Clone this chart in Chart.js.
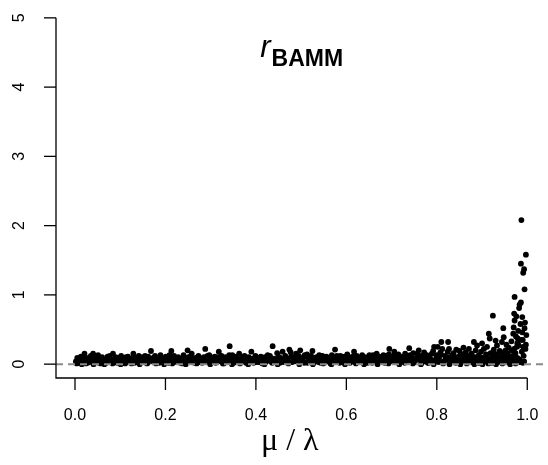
<!DOCTYPE html>
<html>
<head>
<meta charset="utf-8">
<script src="https://cdn.jsdelivr.net/npm/chart.js@4.4.1/dist/chart.umd.min.js"></script>
<style>
  html, body { margin: 0; padding: 0; background: #fff; }
  #grafica { display: block; }
</style>
</head>
<body>
<canvas id="grafica" width="548" height="465"></canvas>
<script>
// =============================================
// DATOS
// =============================================

// mu / lambda (eje x) y tasa BAMM (eje y)
const muRatio = [
  0.002, 0.005, 0.008, 0.011, 0.013, 0.016, 0.019, 0.021, 0.024, 0.027,
  0.030, 0.032, 0.035, 0.038, 0.040, 0.043, 0.046, 0.049, 0.051, 0.054,
  0.057, 0.060, 0.063, 0.066, 0.069, 0.072, 0.075, 0.078, 0.081, 0.084,
  0.087, 0.090, 0.093, 0.096, 0.099, 0.102, 0.105, 0.108, 0.111, 0.114,
  0.117, 0.120, 0.123, 0.126, 0.129, 0.132, 0.135, 0.138, 0.141, 0.144,
  0.147, 0.150, 0.153, 0.156, 0.159, 0.162, 0.165, 0.168, 0.171, 0.174,
  0.177, 0.180, 0.183, 0.186, 0.189, 0.192, 0.195, 0.198, 0.201, 0.204,
  0.207, 0.210, 0.213, 0.216, 0.219, 0.222, 0.225, 0.228, 0.231, 0.234,
  0.237, 0.240, 0.243, 0.246, 0.249, 0.252, 0.255, 0.258, 0.261, 0.264,
  0.267, 0.270, 0.273, 0.276, 0.279, 0.282, 0.285, 0.288, 0.291, 0.294,
  0.297, 0.300, 0.303, 0.306, 0.309, 0.312, 0.315, 0.318, 0.321, 0.324,
  0.327, 0.330, 0.333, 0.336, 0.339, 0.342, 0.345, 0.348, 0.351, 0.354,
  0.357, 0.360, 0.363, 0.366, 0.369, 0.372, 0.375, 0.378, 0.381, 0.384,
  0.387, 0.390, 0.393, 0.396, 0.399, 0.402, 0.405, 0.408, 0.411, 0.414,
  0.417, 0.420, 0.423, 0.426, 0.429, 0.432, 0.435, 0.437, 0.440, 0.443,
  0.447, 0.450, 0.453, 0.456, 0.459, 0.462, 0.465, 0.468, 0.471, 0.474,
  0.477, 0.480, 0.483, 0.486, 0.489, 0.492, 0.495, 0.498, 0.501, 0.504,
  0.507, 0.510, 0.513, 0.516, 0.519, 0.522, 0.525, 0.528, 0.531, 0.534,
  0.537, 0.540, 0.543, 0.547, 0.550, 0.553, 0.556, 0.559, 0.562, 0.565,
  0.568, 0.571, 0.575, 0.578, 0.581, 0.584, 0.587, 0.590, 0.593, 0.596,
  0.599, 0.602, 0.605, 0.608, 0.611, 0.614, 0.617, 0.620, 0.623, 0.626,
  0.629, 0.632, 0.635, 0.638, 0.641, 0.644, 0.647, 0.650, 0.653, 0.656,
  0.659, 0.662, 0.665, 0.667, 0.670, 0.673, 0.676, 0.679, 0.682, 0.685,
  0.688, 0.691, 0.694, 0.695, 0.698, 0.701, 0.704, 0.706, 0.709, 0.712,
  0.715, 0.718, 0.721, 0.724, 0.727, 0.730, 0.733, 0.736, 0.739, 0.742,
  0.745, 0.748, 0.751, 0.754, 0.757, 0.760, 0.763, 0.766, 0.769, 0.772,
  0.775, 0.778, 0.780, 0.783, 0.786, 0.789, 0.792, 0.794, 0.797, 0.800,
  0.802, 0.805, 0.808, 0.810, 0.812, 0.815, 0.818, 0.821, 0.824, 0.825,
  0.827, 0.830, 0.833, 0.834, 0.837, 0.840, 0.843, 0.846, 0.849, 0.850,
  0.853, 0.856, 0.859, 0.862, 0.864, 0.867, 0.870, 0.871, 0.874, 0.877,
  0.880, 0.882, 0.884, 0.886, 0.889, 0.891, 0.893, 0.896, 0.898, 0.900,
  0.902, 0.904, 0.906, 0.909, 0.911, 0.913, 0.915, 0.917, 0.919, 0.921,
  0.923, 0.924, 0.926, 0.928, 0.930, 0.932, 0.933, 0.935, 0.937, 0.939,
  0.940, 0.942, 0.944, 0.946, 0.947, 0.948, 0.950, 0.952, 0.954, 0.955,
  0.957, 0.959, 0.961, 0.963, 0.965, 0.966, 0.968, 0.969, 0.970, 0.971,
  0.972, 0.972, 0.973, 0.974, 0.975, 0.976, 0.977, 0.978, 0.979, 0.980,
  0.981, 0.982, 0.983, 0.984, 0.985, 0.986, 0.986, 0.987, 0.988, 0.989,
  0.989, 0.990, 0.991, 0.991, 0.992, 0.993, 0.994, 0.995, 0.996, 0.997,
  0.998, 0.993
];

const rateBamm = [
  0.04, 0.09, 0.02, 0.06, 0.11, 0.03, 0.07, 0.15, 0.01, 0.05,
  0.09, 0.03, 0.12, 0.06, 0.15, 0.02, 0.08, 0.04, 0.13, 0.06,
  0.01, 0.10, 0.04, 0.07, 0.02, 0.11, 0.05, 0.08, 0.03, 0.15,
  0.06, 0.10, 0.02, 0.07, 0.04, 0.12, 0.05, 0.09, 0.01, 0.06,
  0.11, 0.03, 0.08, 0.05, 0.15, 0.02, 0.09, 0.06, 0.12, 0.03,
  0.07, 0.10, 0.04, 0.08, 0.01, 0.11, 0.05, 0.19, 0.07, 0.03,
  0.12, 0.06, 0.09, 0.02, 0.13, 0.05, 0.08, 0.03, 0.11, 0.06,
  0.02, 0.09, 0.19, 0.04, 0.12, 0.07, 0.03, 0.10, 0.05, 0.08,
  0.01, 0.13, 0.06, 0.09, 0.20, 0.04, 0.11, 0.15, 0.07, 0.02,
  0.09, 0.05, 0.12, 0.03, 0.08, 0.06, 0.10, 0.22, 0.04, 0.07,
  0.13, 0.02, 0.09, 0.05, 0.11, 0.03, 0.08, 0.18, 0.06, 0.12,
  0.01, 0.07, 0.10, 0.04, 0.09, 0.26, 0.06, 0.13, 0.02, 0.08,
  0.11, 0.05, 0.15, 0.03, 0.09, 0.06, 0.12, 0.02, 0.07, 0.10,
  0.04, 0.18, 0.08, 0.05, 0.12, 0.03, 0.09, 0.06, 0.11, 0.01,
  0.07, 0.10, 0.04, 0.13, 0.06, 0.09, 0.03, 0.26, 0.08, 0.05,
  0.16, 0.11, 0.02, 0.07, 0.18, 0.04, 0.12, 0.09, 0.06, 0.21,
  0.17, 0.03, 0.10, 0.07, 0.15, 0.04, 0.12, 0.20, 0.06, 0.09,
  0.02, 0.11, 0.14, 0.05, 0.08, 0.12, 0.19, 0.03, 0.07, 0.10,
  0.05, 0.13, 0.02, 0.12, 0.08, 0.04, 0.11, 0.06, 0.09, 0.01,
  0.13, 0.07, 0.21, 0.04, 0.10, 0.06, 0.12, 0.03, 0.08, 0.11,
  0.05, 0.14, 0.07, 0.02, 0.10, 0.05, 0.18, 0.08, 0.12, 0.03,
  0.09, 0.06, 0.13, 0.04, 0.10, 0.07, 0.02, 0.11, 0.08, 0.05,
  0.13, 0.03, 0.09, 0.15, 0.06, 0.11, 0.04, 0.08, 0.13, 0.02,
  0.10, 0.06, 0.14, 0.22, 0.05, 0.09, 0.12, 0.18, 0.03, 0.08,
  0.14, 0.06, 0.11, 0.04, 0.09, 0.15, 0.07, 0.12, 0.23, 0.05,
  0.10, 0.16, 0.03, 0.08, 0.15, 0.20, 0.06, 0.12, 0.04, 0.17,
  0.09, 0.13, 0.02, 0.11, 0.07, 0.15, 0.19, 0.25, 0.05, 0.13,
  0.25, 0.09, 0.17, 0.32, 0.22, 0.04, 0.12, 0.07, 0.18, 0.32,
  0.22, 0.10, 0.05, 0.13, 0.16, 0.08, 0.21, 0.03, 0.11, 0.19,
  0.14, 0.06, 0.24, 0.09, 0.17, 0.04, 0.12, 0.22, 0.07, 0.15,
  0.03, 0.32, 0.10, 0.20, 0.27, 0.06, 0.13, 0.02, 0.18, 0.30,
  0.09, 0.22, 0.05, 0.14, 0.25, 0.08, 0.44, 0.37, 0.16, 0.04,
  0.11, 0.70, 0.21, 0.07, 0.34, 0.14, 0.27, 0.03, 0.10, 0.19,
  0.18, 0.06, 0.32, 0.13, 0.52, 0.39, 0.09, 0.20, 0.28, 0.04,
  0.15, 0.24, 0.07, 0.10, 0.33, 0.20, 0.12, 0.44, 0.53, 0.73,
  0.63, 0.97, 0.05, 0.16, 0.40, 0.69, 0.25, 0.09, 0.37, 0.48,
  0.27, 0.81, 0.86, 0.03, 0.58, 0.89, 1.45, 2.08, 0.18, 0.46,
  0.68, 0.35, 0.25, 1.32, 0.12, 1.37, 1.08, 0.60, 0.22, 1.58,
  0.42, 0.04
];

// capa inferior de la banda densa (valores bajos)
const muRatioBase = [
  0.004, 0.009, 0.015, 0.022, 0.028, 0.034, 0.041, 0.047, 0.053, 0.059,
  0.065, 0.071, 0.077, 0.083, 0.089, 0.095, 0.101, 0.107, 0.113, 0.119,
  0.125, 0.131, 0.137, 0.143, 0.149, 0.155, 0.161, 0.167, 0.173, 0.179,
  0.185, 0.191, 0.197, 0.203, 0.209, 0.215, 0.221, 0.227, 0.233, 0.239,
  0.245, 0.251, 0.257, 0.263, 0.269, 0.275, 0.281, 0.287, 0.293, 0.299,
  0.305, 0.311, 0.317, 0.323, 0.329, 0.335, 0.341, 0.347, 0.353, 0.359,
  0.365, 0.371, 0.377, 0.383, 0.389, 0.395, 0.401, 0.407, 0.413, 0.419,
  0.425, 0.431, 0.436, 0.442, 0.448, 0.454, 0.460, 0.466, 0.472, 0.478,
  0.484, 0.490, 0.496, 0.502, 0.508, 0.514, 0.520, 0.526, 0.532, 0.538,
  0.544, 0.549, 0.555, 0.561, 0.567, 0.573, 0.579, 0.585, 0.591, 0.597,
  0.603, 0.609, 0.615, 0.621, 0.627, 0.633, 0.639, 0.645, 0.651, 0.657,
  0.663, 0.669, 0.675, 0.681, 0.687, 0.693, 0.699, 0.705, 0.711, 0.717,
  0.723, 0.729, 0.735, 0.741, 0.747, 0.753, 0.759, 0.765, 0.771, 0.777,
  0.782, 0.788, 0.793, 0.799, 0.804, 0.809, 0.814, 0.819, 0.823, 0.828,
  0.832, 0.838, 0.842, 0.847, 0.852, 0.857, 0.861, 0.866, 0.869, 0.873,
  0.878, 0.883, 0.887, 0.892, 0.897, 0.901, 0.905, 0.910, 0.914, 0.918,
  0.922, 0.927, 0.931, 0.936, 0.941, 0.945, 0.949, 0.953, 0.958, 0.962,
  0.967, 0.971, 0.974, 0.978, 0.983, 0.987, 0.990, 0.994, 0.997
];

const rateBammBase = [
  0.01, 0.05, 0.00, 0.08, 0.02, 0.05, 0.00, 0.10, 0.02, 0.06,
  0.00, 0.04, 0.12, 0.01, 0.05, 0.09, 0.00, 0.03, 0.10, 0.06,
  0.01, 0.08, 0.03, 0.00, 0.05, 0.12, 0.02, 0.06, 0.09, 0.01,
  0.04, 0.10, 0.00, 0.07, 0.13, 0.01, 0.04, 0.08, 0.02, 0.06,
  0.00, 0.10, 0.03, 0.06, 0.01, 0.09, 0.02, 0.05, 0.12, 0.00,
  0.07, 0.02, 0.10, 0.04, 0.01, 0.06, 0.13, 0.00, 0.04, 0.08,
  0.01, 0.11, 0.05, 0.00, 0.07, 0.02, 0.10, 0.03, 0.06, 0.00,
  0.08, 0.12, 0.02, 0.05, 0.00, 0.09, 0.03, 0.06, 0.01, 0.11,
  0.04, 0.08, 0.00, 0.05, 0.13, 0.02, 0.06, 0.00, 0.09, 0.03,
  0.07, 0.01, 0.10, 0.04, 0.00, 0.06, 0.12, 0.02, 0.05, 0.00,
  0.08, 0.03, 0.11, 0.01, 0.06, 0.10, 0.00, 0.04, 0.13, 0.02,
  0.06, 0.00, 0.09, 0.04, 0.12, 0.01, 0.06, 0.03, 0.10, 0.00,
  0.07, 0.02, 0.05, 0.13, 0.01, 0.06, 0.09, 0.00, 0.04, 0.11,
  0.02, 0.06, 0.00, 0.09, 0.03, 0.14, 0.01, 0.06, 0.10, 0.00,
  0.04, 0.12, 0.02, 0.07, 0.00, 0.05, 0.15, 0.01, 0.08, 0.03,
  0.11, 0.00, 0.06, 0.02, 0.09, 0.00, 0.04, 0.12, 0.01, 0.07,
  0.02, 0.15, 0.00, 0.05, 0.10, 0.01, 0.14, 0.03, 0.08, 0.00,
  0.05, 0.22, 0.01, 0.30, 0.07, 0.35, 0.02, 0.52, 0.28
];

const xTicks = [0, 0.2, 0.4, 0.6, 0.8, 1];
const xTickLabels = ["0.0", "0.2", "0.4", "0.6", "0.8", "1.0"];
const yTicks = [0, 1, 2, 3, 4, 5];
const yTickLabels = ["0", "1", "2", "3", "4", "5"];
const lineaRef = 0;

// limites de la region de dibujo (como en R, con 4% extra)
const xMin = -0.042, xMax = 1.037;
const yMin = -0.2, yMax = 5.2;

// =============================================
// EJES, TITULO Y ETIQUETAS
// =============================================

const ejesPlugin = {
  id: "ejesR",
  afterDraw(chart) {
    const { ctx, chartArea } = chart;
    const x = chart.scales.x, y = chart.scales.y;
    const izq = chartArea.left, abajo = chartArea.bottom;

    ctx.save();
    ctx.strokeStyle = "#000";
    ctx.lineWidth = 1.3;
    ctx.lineCap = "butt";

    // ejes en forma de L
    ctx.beginPath();
    ctx.moveTo(izq, y.getPixelForValue(5));
    ctx.lineTo(izq, abajo);
    ctx.lineTo(x.getPixelForValue(1), abajo);
    ctx.stroke();

    // marcas y etiquetas del eje x
    ctx.fillStyle = "#000";
    ctx.font = "16px 'Liberation Sans', Arial, sans-serif";
    ctx.textAlign = "center";
    ctx.textBaseline = "middle";
    xTicks.forEach((v, i) => {
      const px = x.getPixelForValue(v);
      ctx.beginPath();
      ctx.moveTo(px, abajo);
      ctx.lineTo(px, abajo + 12);
      ctx.stroke();
      ctx.fillText(xTickLabels[i], px, abajo + 38);
    });

    // marcas y etiquetas del eje y (giradas)
    yTicks.forEach((v, i) => {
      const py = y.getPixelForValue(v);
      ctx.beginPath();
      ctx.moveTo(izq - 12, py);
      ctx.lineTo(izq, py);
      ctx.stroke();
      ctx.save();
      ctx.translate(20, py);
      ctx.rotate(-Math.PI / 2);
      ctx.fillText(yTickLabels[i], 0, 0);
      ctx.restore();
    });

    // titulo r_BAMM
    const centro = x.getPixelForValue(0.5);
    ctx.textAlign = "left";
    ctx.textBaseline = "alphabetic";
    ctx.font = "italic 31px 'Liberation Sans', Arial, sans-serif";
    const anchoR = ctx.measureText("r").width;
    ctx.font = "bold 23px 'Liberation Sans', Arial, sans-serif";
    const anchoSub = ctx.measureText("BAMM").width;
    const inicio = centro - (anchoR + anchoSub) / 2;
    ctx.font = "italic 31px 'Liberation Sans', Arial, sans-serif";
    ctx.fillText("r", inicio, 57);
    ctx.font = "bold 23px 'Liberation Sans', Arial, sans-serif";
    ctx.fillText("BAMM", inicio + anchoR + 1, 66);

    // etiqueta del eje x
    ctx.textAlign = "center";
    ctx.font = "32px 'Liberation Serif', 'DejaVu Serif', serif";
    ctx.fillText("\u03bc / \u03bb", x.getPixelForValue(0.475), 450);

    ctx.restore();
  }
};

// =============================================
// GRAFICA
// =============================================

const puntos = muRatio.map((m, i) => ({ x: m, y: rateBamm[i] }))
  .concat(muRatioBase.map((m, i) => ({ x: m, y: rateBammBase[i] })));

new Chart(document.getElementById("grafica").getContext("2d"), {
  type: "scatter",
  data: {
    datasets: [
      {
        label: "linea cero",
        data: [{ x: xMin, y: lineaRef }, { x: xMax, y: lineaRef }],
        showLine: true,
        borderColor: "#8a8a8a",
        borderWidth: 2,
        borderDash: [7, 5],
        pointRadius: 0,
        order: 0
      },
      {
        label: "rBAMM",
        data: puntos,
        backgroundColor: "#000",
        borderWidth: 0,
        pointRadius: 2.9,
        order: 1
      }
    ]
  },
  options: {
    responsive: false,
    animation: false,
    layout: { padding: { left: 56, right: 1, top: 0, bottom: 87 } },
    plugins: { legend: { display: false }, tooltip: { enabled: false } },
    scales: {
      x: { type: "linear", min: xMin, max: xMax, display: false },
      y: { type: "linear", min: yMin, max: yMax, display: false }
    }
  },
  plugins: [ejesPlugin]
});
</script>
</body>
</html>
